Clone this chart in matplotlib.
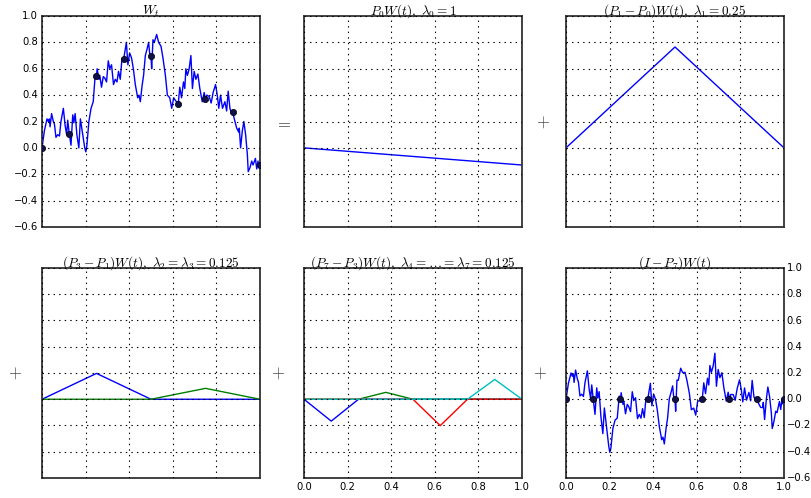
import numpy as np
import matplotlib
matplotlib.use('Agg')
import matplotlib.pyplot as plt

plt.style.use('classic')
plt.rcParams['mathtext.fontset'] = 'cm'
plt.rcParams['font.family'] = ['DejaVu Sans']

# Brownian path
t_path = [0.000, 0.011, 0.023, 0.029, 0.034, 0.037, 0.044, 0.052, 0.057, 0.064,
          0.072, 0.080, 0.087, 0.098, 0.106, 0.113, 0.118, 0.125, 0.133, 0.141,
          0.146, 0.152, 0.160, 0.169, 0.176, 0.187, 0.196, 0.201, 0.206, 0.215,
          0.225, 0.235, 0.244, 0.250, 0.253, 0.261, 0.265, 0.273, 0.281, 0.288,
          0.296, 0.304, 0.311, 0.319, 0.328, 0.336, 0.344, 0.351, 0.359, 0.367,
          0.375, 0.387, 0.394, 0.402, 0.411, 0.419, 0.428, 0.439, 0.445, 0.451,
          0.459, 0.466, 0.474, 0.482, 0.489, 0.495, 0.500, 0.503, 0.509, 0.515,
          0.526, 0.535, 0.546, 0.555, 0.566, 0.575, 0.586, 0.595, 0.604, 0.612,
          0.625, 0.632, 0.640, 0.649, 0.655, 0.660, 0.667, 0.675, 0.683, 0.690,
          0.698, 0.706, 0.715, 0.724, 0.735, 0.744, 0.750, 0.756, 0.767, 0.776,
          0.785, 0.796, 0.804, 0.811, 0.819, 0.828, 0.839, 0.847, 0.854, 0.862,
          0.870, 0.875, 0.882, 0.893, 0.902, 0.905, 0.911, 0.919, 0.926, 0.934,
          0.942, 0.946, 0.954, 0.962, 0.968, 0.979, 0.985, 0.991, 0.995, 1.000]
w_path = [0.00, 0.13, 0.22, 0.20, 0.22, 0.16, 0.26, 0.20, 0.18, 0.08,
          0.10, 0.09, 0.20, 0.30, 0.17, 0.10, 0.21, 0.107, 0.02, 0.25,
          0.19, 0.26, 0.10, 0.00, 0.22, 0.10, 0.00, -0.03, 0.02, 0.20,
          0.30, 0.35, 0.55, 0.547, 0.60, 0.52, 0.55, 0.46, 0.54, 0.53,
          0.50, 0.66, 0.60, 0.63, 0.48, 0.52, 0.50, 0.58, 0.52, 0.68,
          0.676, 0.80, 0.63, 0.72, 0.68, 0.60, 0.48, 0.38, 0.40, 0.35,
          0.47, 0.55, 0.70, 0.75, 0.80, 0.70, 0.70, 0.60, 0.82, 0.80,
          0.86, 0.80, 0.77, 0.68, 0.55, 0.40, 0.38, 0.30, 0.38, 0.36,
          0.333, 0.46, 0.38, 0.50, 0.45, 0.60, 0.55, 0.60, 0.70, 0.45,
          0.58, 0.52, 0.56, 0.45, 0.35, 0.42, 0.368, 0.40, 0.39, 0.34,
          0.42, 0.48, 0.40, 0.30, 0.40, 0.30, 0.35, 0.28, 0.43, 0.30,
          0.26, 0.27, 0.22, 0.15, 0.12, 0.15, 0.00, 0.13, 0.20, 0.10,
          -0.05, -0.18, -0.15, -0.10, -0.13, -0.08, -0.16, -0.10, -0.15, -0.13]

# values of the path at the dyadic points k/8
knot_t = [0.0, 0.125, 0.25, 0.375, 0.5, 0.625, 0.75, 0.875, 1.0]
w_knots = [0.0, 0.107, 0.547, 0.676, 0.70, 0.333, 0.368, 0.27, -0.13]

titles = [r'$W_t$',
          r'$P_0W(t),\ \lambda_0=1$',
          r'$(P_1-P_0)W(t),\ \lambda_1=0.25$',
          r'$(P_3-P_1)W(t),\ \lambda_2=\lambda_3=0.125$',
          r'$(P_7-P_3)W(t),\ \lambda_4=\ldots=\lambda_7=0.125$',
          r'$(I-P_7)W(t)$']
tick_vals = [0.0, 0.2, 0.4, 0.6, 0.8, 1.0]
ytick_vals = [-0.6, -0.4, -0.2, 0.0, 0.2, 0.4, 0.6, 0.8, 1.0]

wk = dict(zip(knot_t, w_knots))


def tent(c, d):
    # height of the Schauder tent centred at c with half width d
    h = wk[c] - (wk[c - d] + wk[c + d]) / 2
    return [0, c - d, c, c + d, 1], [0, 0, h, 0, 0]


def lab(v):
    return ('%.1f' % v).replace('-', '\u2212')


fig = plt.figure(figsize=(8.12, 4.98), dpi=100, facecolor='white')
W, H = 812., 498.
lefts = [42, 304, 566]
axw = 218
axes = []
for row, (top, bot) in enumerate([(16, 227), (268, 478)]):
    for col in range(3):
        ax = fig.add_axes([lefts[col] / W, 1 - bot / H, axw / W, (bot - top) / H])
        ax.set_xlim(0, 1)
        ax.set_ylim(-0.6, 1.0)
        ax.set_xticks(tick_vals)
        ax.set_yticks(ytick_vals)
        ax.grid(True, color='k', linestyle=':', linewidth=0.8)
        ax.tick_params(labelsize=7.2, length=0, pad=3)
        ax.set_xticklabels([])
        ax.set_yticklabels([])
        for sp in ax.spines.values():
            sp.set_linewidth(1.3)
            sp.set_color('#333333')
        ax.set_title(titles[row * 3 + col], fontsize=9.5, pad=1)
        axes.append(ax)

dot = dict(color='#10104a', marker='o', markersize=4.5, linestyle='none', zorder=3)

ax = axes[0]
ax.plot(t_path, w_path, color='b', lw=1)
ax.plot(knot_t, w_knots, **dot)
ax.set_yticklabels([lab(v) for v in ytick_vals])

ax = axes[1]
ax.plot([0, 1], [w_knots[0], w_knots[-1]], color='b', lw=1)

ax = axes[2]
ax.plot(*tent(0.5, 0.5), color='b', lw=1)

ax = axes[3]
for c, col in zip([0.25, 0.75], ['b', 'g']):
    ax.plot(*tent(c, 0.25), color=col, lw=1)

ax = axes[4]
for c, col in zip([0.125, 0.375, 0.625, 0.875], ['b', 'g', 'r', 'c']):
    ax.plot(*tent(c, 0.125), color=col, lw=1)
ax.set_xticklabels([lab(v) for v in tick_vals])

ax = axes[5]
resid = np.array(w_path) - np.interp(t_path, knot_t, w_knots)
ax.plot(t_path, resid, color='b', lw=1)
ax.plot(knot_t, np.zeros(len(knot_t)), **dot)
ax.set_xticklabels([lab(v) for v in tick_vals])
ax.yaxis.tick_right()
ax.tick_params(axis='y', pad=2)
ax.set_yticklabels([lab(v) for v in ytick_vals])

for x, y, s in [(283, 122, '='), (543, 122, '+'), (15, 373, '+'),
                (278, 373, '+'), (540, 373, '+')]:
    fig.text(x / W, 1 - y / H, '$%s$' % s, fontsize=12, ha='center', va='center',
             color='#444444')

fig.savefig('out.png', dpi=100, facecolor='white')
